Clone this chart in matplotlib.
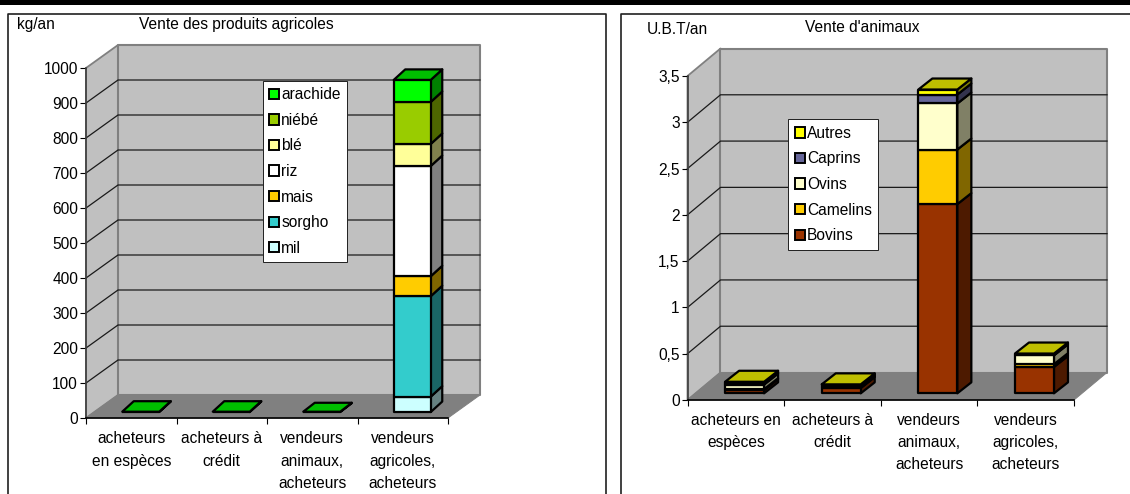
import matplotlib
matplotlib.use('Agg')
import matplotlib.pyplot as plt
from matplotlib.colors import to_rgb
from matplotlib.patches import Patch, Polygon, Rectangle

plt.rcParams['font.family'] = ['Liberation Sans', 'DejaVu Sans']

W, H = 1130, 494

# sales of farm products, kg/an
crop_cats = ['acheteurs\nen espèces', 'acheteurs à\ncrédit', 'vendeurs\nanimaux,\nacheteurs', 'vendeurs\nagricoles,\nacheteurs']
mil = [0, 0, 0, 44]
sorgho = [0, 0, 0, 287]
mais = [0, 0, 0, 57]
riz = [0, 0, 0, 315]
ble = [0, 0, 0, 63]
niebe = [0, 0, 0, 120]
arachide = [1, 1, 1, 63]
crop_names = ['mil', 'sorgho', 'mais', 'riz', 'blé', 'niébé', 'arachide']
crop_colors = ['#CCFFFF', '#33CCCC', '#FFCC00', '#FFFFFF', '#FFFF99', '#99CC00', '#00FF00']
crop_ticks = [0, 100, 200, 300, 400, 500, 600, 700, 800, 900, 1000]
crop_ticklabels = ['0', '100', '200', '300', '400', '500', '600', '700', '800', '900', '1000']

# sales of animals, U.B.T/an
anim_cats = ['acheteurs en\nespèces', 'acheteurs à\ncrédit', 'vendeurs\nanimaux,\nacheteurs', 'vendeurs\nagricoles,\nacheteurs']
bovins = [0.035, 0.057, 2.044, 0.285]
camelins = [0.01, 0.01, 0.59, 0.03]
ovins = [0.05, 0.01, 0.497, 0.095]
caprins = [0.01, 0.01, 0.097, 0.01]
autres = [0.02, 0.01, 0.054, 0.01]
anim_names = ['Bovins', 'Camelins', 'Ovins', 'Caprins', 'Autres']
anim_colors = ['#993300', '#FFCC00', '#FFFFCC', '#666699', '#FFFF00']
anim_ticks = [0, 0.5, 1, 1.5, 2, 2.5, 3, 3.5]
anim_ticklabels = ['0', '0,5', '1', '1,5', '2', '2,5', '3', '3,5']

FS = 11.2
OUTLINE = 1.6


def shade(color, k):
    return tuple(c * k for c in to_rgb(color))


def px_axes(fig, x0, x1, y_top, y_bottom):
    return fig.add_axes([x0 / W, 1 - y_bottom / H, (x1 - x0) / W, (y_bottom - y_top) / H])


def box(ax, pts, fc, ec='black', lw=OUTLINE, z=3):
    ax.add_patch(Polygon(pts, closed=True, facecolor=fc, edgecolor=ec, linewidth=lw,
                         joinstyle='round', clip_on=False, zorder=z))


def draw_room(ax, ticks, wall_dx, wall_dy):
    top = ticks[-1]
    n = 4
    wall = '#C0C0C0'
    edge = '#808080'
    box(ax, [(0, 0), (wall_dx, wall_dy), (wall_dx, top + wall_dy), (0, top)], wall, edge, 1.3, 1)
    box(ax, [(wall_dx, wall_dy), (n + wall_dx, wall_dy), (n + wall_dx, top + wall_dy), (wall_dx, top + wall_dy)], wall, edge, 1.5, 1)
    box(ax, [(0, 0), (n, 0), (n + wall_dx, wall_dy), (wall_dx, wall_dy)], edge, edge, 0.7, 1.5)
    for v in ticks[1:-1]:
        ax.plot([0, wall_dx, n + wall_dx], [v, v + wall_dy, v + wall_dy], color='#1A1A1A', lw=0.9,
                clip_on=False, zorder=2)


def draw_stacks(ax, series, colors, width, shift, base, bar_dx, bar_dy, top_scale):
    for i in range(len(series[0])):
        x0 = i + shift
        x1 = x0 + width
        y = base
        last = None
        for vals, col in zip(series, colors):
            v = vals[i]
            if v <= 0:
                continue
            dy = bar_dy * top_scale[i]
            box(ax, [(x1, y), (x1 + bar_dx, y + dy), (x1 + bar_dx, y + v + dy), (x1, y + v)], shade(col, 0.5))
            box(ax, [(x0, y), (x1, y), (x1, y + v), (x0, y + v)], col)
            y += v
            last = col
        dy = bar_dy * top_scale[i]
        box(ax, [(x0, y), (x1, y), (x1 + bar_dx, y + dy), (x0 + bar_dx, y + dy)], shade(last, 0.75))


def style_axes(ax, cats, ticks, ticklabels, linespacing):
    ax.set_xlim(0, 4)
    ax.set_ylim(ticks[0], ticks[-1])
    ax.patch.set_visible(False)
    for s in ['top', 'right']:
        ax.spines[s].set_visible(False)
    for s in ['left', 'bottom']:
        ax.spines[s].set_linewidth(1.2)
        ax.spines[s].set_zorder(4)
    ax.spines['left'].set_color('#404040')
    ax.set_yticks(ticks)
    ax.set_yticklabels(ticklabels, fontsize=FS)
    ax.set_xticks(range(5))
    ax.set_xticklabels([])
    ax.set_xticks([i + 0.5 for i in range(4)], minor=True)
    ax.set_xticklabels(cats, minor=True, fontsize=FS, linespacing=linespacing, va='top')
    ax.tick_params(axis='y', length=4.3, width=0.8, pad=1.4)
    ax.tick_params(axis='x', which='major', length=4, width=0.8)
    ax.tick_params(axis='x', which='minor', length=0, pad=9.5)


def add_legend(fig, ax, names, colors, x, y, spacing):
    handles = [Patch(facecolor=c, edgecolor='black', linewidth=1.4, label=n) for n, c in zip(names, colors)]
    leg = ax.legend(handles=handles[::-1], loc='upper left', bbox_to_anchor=(x / W, 1 - y / H),
                    bbox_transform=fig.transFigure, borderaxespad=0, fontsize=FS, fancybox=False,
                    framealpha=1, edgecolor='#202020', handlelength=0.64, handleheight=0.64,
                    handletextpad=0.14, labelspacing=spacing, borderpad=0.42)
    leg.get_frame().set_linewidth(0.7)
    leg.set_zorder(6)


def fig_text(fig, x, y, s):
    fig.text(x / W, 1 - y / H, s, fontsize=FS, ha='left', va='center')


fig = plt.figure(figsize=(W / 100, H / 100), dpi=100, facecolor='white')

# black band along the top and the two chart frames (open at the page edges)
fig.add_artist(Rectangle((0, 1 - 5 / H), 1, 5 / H, transform=fig.transFigure, facecolor='black', edgecolor='none'))
frame_kw = dict(color='#202020', lw=1.2, transform=fig.transFigure)
fig.add_artist(plt.Line2D([8 / W, 8 / W, 606 / W, 606 / W], [0, 1 - 14 / H, 1 - 14 / H, 0], **frame_kw))
fig.add_artist(plt.Line2D([621 / W, 621 / W, 1], [0, 1 - 14 / H, 1 - 14 / H], **frame_kw))

# left chart
ax1 = px_axes(fig, 86, 448, 68, 418)
draw_room(ax1, crop_ticks, 32 / 90.5, 23 / 0.35)
draw_stacks(ax1, [mil, sorgho, mais, riz, ble, niebe, arachide], crop_colors,
            37 / 90.5, 0.105 + (0.5 - 37 / 181), 17, 11.5 / 90.5, 10.5 / 0.35, [1, 1, 0.85, 1])
style_axes(ax1, crop_cats, crop_ticks, crop_ticklabels, 1.62)
add_legend(fig, ax1, crop_names, crop_colors, 262.7, 80.8, 0.68)
fig_text(fig, 16.5, 25, 'kg/an')
fig_text(fig, 139, 25, 'Vente des produits agricoles')

# right chart
ax2 = px_axes(fig, 687.5, 1074, 76, 400)
draw_room(ax2, anim_ticks, 33 / 96.65, 27.5 / 92.6)
draw_stacks(ax2, [bovins, camelins, ovins, caprins, autres], anim_colors,
            39 / 96.65, 0.091 + (0.5 - 39 / 193.3), 0.072, 14 / 96.65, 11 / 92.6, [1, 1, 1, 1])
style_axes(ax2, anim_cats, anim_ticks, anim_ticklabels, 1.58)
add_legend(fig, ax2, anim_names, anim_colors, 788.4, 119.3, 0.68)
fig_text(fig, 647, 29, 'U.B.T/an')
fig_text(fig, 804.6, 27, "Vente d'animaux")

fig.savefig('out.png', dpi=100)
plt.close(fig)
